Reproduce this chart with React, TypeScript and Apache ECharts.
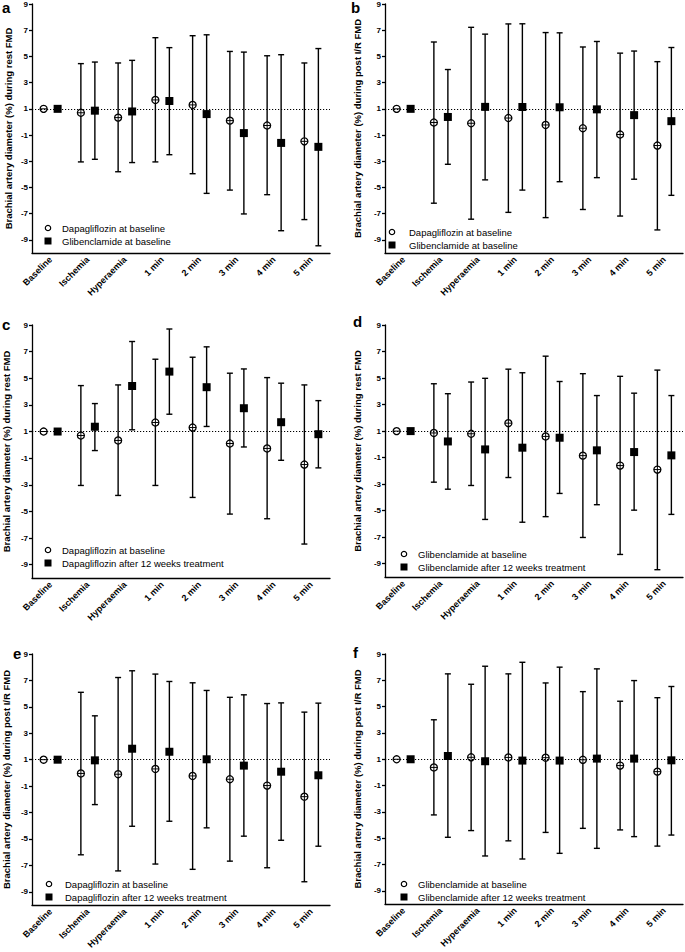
import React, { useEffect, useRef } from 'react';
import * as echarts from 'echarts';

// ---------- data ----------
const categories = ['Baseline', 'Ischemia', 'Hyperaemia', '1 min', '2 min', '3 min', '4 min', '5 min'];
const yTickValues = [-9, -7, -5, -3, -1, 1, 3, 5, 7, 9];
const referenceValue = 1;

// Dapagliflozin at baseline, rest FMD
const dapaBaseRestMean = [1, 0.7, 0.33, 1.68, 1.3, 0.1, -0.27, -1.48];
const dapaBaseRestLow = [1, -3.05, -3.8, -3.05, -3.95, -5.2, -5.55, -7.45];
const dapaBaseRestHigh = [1, 4.45, 4.5, 6.43, 6.58, 5.38, 5.05, 4.5];

// Glibenclamide at baseline, rest FMD
const glibBaseRestMean = [1, 0.86, 0.8, 1.6, 0.6, -0.85, -1.6, -1.9];
const glibBaseRestLow = [1, -2.85, -3.1, -2.5, -5.45, -7.02, -8.3, -9.45];
const glibBaseRestHigh = [1, 4.57, 4.7, 5.67, 6.65, 5.33, 5.13, 5.6];

// Dapagliflozin at baseline, post I/R FMD
const dapaBaseIRMean = [1, -0.04, -0.1, 0.3, -0.23, -0.48, -0.96, -1.8];
const dapaBaseIRLow = [1, -6.2, -7.42, -6.9, -7.3, -6.68, -7.18, -8.24];
const dapaBaseIRHigh = [1, 6.1, 7.22, 7.48, 6.82, 5.72, 5.25, 4.6];

// Glibenclamide at baseline, post I/R FMD
const glibBaseIRMean = [1, 0.38, 1.15, 1.14, 1.12, 0.96, 0.52, 0.06];
const glibBaseIRLow = [1, -3.23, -4.42, -5.2, -4.56, -4.25, -4.37, -5.6];
const glibBaseIRHigh = [1, 4.0, 6.7, 7.49, 6.8, 6.14, 5.41, 5.68];

// Dapagliflozin after 12 weeks, rest FMD
const dapa12RestMean = [1, 1.36, 4.42, 5.5, 4.33, 2.75, 1.7, 0.8];
const dapa12RestLow = [1, -0.43, 1.13, 2.3, 1.38, -0.16, -1.16, -1.73];
const dapa12RestHigh = [1, 3.1, 7.76, 8.7, 7.36, 5.7, 4.63, 3.32];

// Glibenclamide after 12 weeks, rest FMD
const glib12RestMean = [1, 0.22, -0.38, -0.25, 0.5, -0.45, -0.58, -0.83];
const glib12RestLow = [1, -3.38, -5.66, -5.87, -3.7, -4.55, -4.96, -5.28];
const glib12RestHigh = [1, 3.82, 4.98, 5.4, 4.74, 3.68, 3.86, 3.68];

// Dapagliflozin after 12 weeks, post I/R FMD
const dapa12IRMean = [1, 0.95, 1.83, 1.6, 1.03, 0.55, 0.09, -0.18];
const dapa12IRLow = [1, -2.4, -4.04, -3.66, -4.16, -4.79, -5.1, -5.55];
const dapa12IRHigh = [1, 4.32, 7.73, 6.92, 6.24, 5.91, 5.3, 5.28];

// Glibenclamide after 12 weeks, post I/R FMD
const glib12IRMean = [1, 1.25, 0.85, 0.9, 0.9, 1.05, 1.05, 0.92];
const glib12IRLow = [1, -4.93, -6.35, -6.58, -6.15, -5.77, -4.88, -4.76];
const glib12IRHigh = [1, 7.49, 8.07, 8.37, 8.0, 7.87, 6.98, 6.53];

const titleRest = 'Brachial artery diameter (%) during rest FMD';
const titleIR = 'Brachial artery diameter (%) during post I/R FMD';
const nameDapaBase = 'Dapagliflozin at baseline';
const nameGlibBase = 'Glibenclamide at baseline';
const nameDapa12 = 'Dapagliflozin after 12 weeks treatment';
const nameGlib12 = 'Glibenclamide after 12 weeks treatment';

type Group = { mean: number[]; low: number[]; high: number[]; label: string };

const dapaBaseRest: Group = { mean: dapaBaseRestMean, low: dapaBaseRestLow, high: dapaBaseRestHigh, label: nameDapaBase };
const glibBaseRest: Group = { mean: glibBaseRestMean, low: glibBaseRestLow, high: glibBaseRestHigh, label: nameGlibBase };
const dapaBaseIR: Group = { mean: dapaBaseIRMean, low: dapaBaseIRLow, high: dapaBaseIRHigh, label: nameDapaBase };
const glibBaseIR: Group = { mean: glibBaseIRMean, low: glibBaseIRLow, high: glibBaseIRHigh, label: nameGlibBase };
const dapa12Rest: Group = { mean: dapa12RestMean, low: dapa12RestLow, high: dapa12RestHigh, label: nameDapa12 };
const glib12Rest: Group = { mean: glib12RestMean, low: glib12RestLow, high: glib12RestHigh, label: nameGlib12 };
const dapa12IR: Group = { mean: dapa12IRMean, low: dapa12IRLow, high: dapa12IRHigh, label: nameDapa12 };
const glib12IR: Group = { mean: glib12IRMean, low: glib12IRLow, high: glib12IRHigh, label: nameGlib12 };

// ---------- layout ----------
const FONT = '"Liberation Sans", Arial, Helvetica, sans-serif';

const panels = [
  { letter: 'a', lx: 2, ly: 8, left: 32, top: 4, height: 249, nameGap: 19, title: titleRest, first: dapaBaseRest, second: glibBaseRest, iconX: 48, textX: 62, row1: 228 },
  { letter: 'b', lx: 351, ly: 8, left: 385, top: 4, height: 249, nameGap: 23, title: titleIR, first: dapaBaseIR, second: glibBaseIR, iconX: 392, textX: 409, row1: 232 },
  { letter: 'c', lx: 2, ly: 325, left: 32, top: 325, height: 253, nameGap: 21, title: titleRest, first: dapaBaseRest, second: dapa12Rest, iconX: 48, textX: 62, row1: 550 },
  { letter: 'd', lx: 353, ly: 322, left: 385, top: 325, height: 252, nameGap: 23, title: titleRest, first: glibBaseRest, second: glib12Rest, iconX: 404, textX: 418, row1: 554 },
  { letter: 'e', lx: 13, ly: 654, left: 32, top: 654, height: 251, nameGap: 21, title: titleIR, first: dapaBaseIR, second: dapa12IR, iconX: 49, textX: 65, row1: 884 },
  { letter: 'f', lx: 353, ly: 653, left: 385, top: 654, height: 250, nameGap: 23, title: titleIR, first: glibBaseIR, second: glib12IR, iconX: 404, textX: 418, row1: 884 },
];

const GRID_W = 298;
const OFFSET = 7;
const ROW_GAP = 13;

function makeRender(kind: 'circle' | 'square', dx: number) {
  return (params: any, api: any) => {
    const i = api.value(0);
    const m = api.value(1);
    const lo = api.value(2);
    const hi = api.value(3);
    const p = api.coord([i, m]);
    const x = p[0] + dx;
    const y = p[1];
    const children: any[] = [];
    const st = { stroke: '#000', lineWidth: 1.4 };
    const hasBar = hi !== lo;
    if (hasBar) {
      const yh = api.coord([i, hi])[1];
      const yl = api.coord([i, lo])[1];
      children.push({ type: 'line', shape: { x1: x, y1: yh, x2: x, y2: yl }, style: st });
      children.push({ type: 'line', shape: { x1: x - 3, y1: yh, x2: x + 3, y2: yh }, style: st });
      children.push({ type: 'line', shape: { x1: x - 3, y1: yl, x2: x + 3, y2: yl }, style: st });
    }
    if (kind === 'circle') {
      const r = 3.5;
      children.push({ type: 'circle', shape: { cx: x, cy: y, r }, style: { fill: '#fff', stroke: '#000', lineWidth: 1.3 } });
      children.push({ type: 'line', shape: { x1: x - r, y1: y, x2: x + r, y2: y }, style: { stroke: '#000', lineWidth: 1 } });
      if (hasBar) {
        children.push({ type: 'line', shape: { x1: x, y1: y - r, x2: x, y2: y + r }, style: { stroke: '#000', lineWidth: 1 } });
      }
    } else {
      children.push({ type: 'rect', shape: { x: x - 4, y: y - 4, width: 8, height: 8 }, style: { fill: '#000' } });
    }
    return { type: 'group', children };
  };
}

function toData(g: Group) {
  return categories.map((_, i) => [i, g.mean[i], g.low[i], g.high[i]]);
}

export default function App() {
  const ref = useRef<HTMLDivElement>(null);

  useEffect(() => {
    if (!ref.current) return;
    const chart = echarts.init(ref.current, undefined, { renderer: 'svg' });

    const axisLineStyle = { color: '#000', width: 1.3 };
    const series: any[] = [];
    const graphics: any[] = [];

    panels.forEach((p, idx) => {
      series.push({
        type: 'line',
        xAxisIndex: idx,
        yAxisIndex: idx,
        data: [],
        silent: true,
        z: 1,
        markLine: {
          silent: true,
          symbol: ['none', 'none'],
          label: { show: false },
          lineStyle: { color: '#000', width: 1, type: [1.2, 1.8] },
          data: [{ yAxis: referenceValue }],
        },
      });
      series.push({
        type: 'custom',
        name: p.first.label,
        xAxisIndex: idx,
        yAxisIndex: idx,
        z: 3,
        renderItem: makeRender('circle', -OFFSET),
        encode: { x: 0, y: 1 },
        data: toData(p.first),
      });
      series.push({
        type: 'custom',
        name: p.second.label,
        xAxisIndex: idx,
        yAxisIndex: idx,
        z: 3,
        renderItem: makeRender('square', OFFSET),
        encode: { x: 0, y: 1 },
        data: toData(p.second),
      });

      // panel letter
      graphics.push({
        type: 'text',
        left: p.lx,
        top: p.ly - 8,
        style: { text: p.letter, fontSize: 15, fontWeight: 'bold', fontFamily: FONT, fill: '#000' },
      });
      // legend
      const r2 = p.row1 + ROW_GAP;
      graphics.push({
        type: 'group',
        children: [
          { type: 'circle', shape: { cx: p.iconX, cy: p.row1, r: 2.7 }, style: { fill: '#fff', stroke: '#000', lineWidth: 1.2 } },
          { type: 'text', x: p.textX, y: p.row1, style: { text: p.first.label, fontSize: 9.5, fontFamily: FONT, fill: '#000', align: 'left', verticalAlign: 'middle' } },
          { type: 'rect', shape: { x: p.iconX - 3.5, y: r2 - 3.5, width: 7, height: 7 }, style: { fill: '#000' } },
          { type: 'text', x: p.textX, y: r2, style: { text: p.second.label, fontSize: 9.5, fontFamily: FONT, fill: '#000', align: 'left', verticalAlign: 'middle' } },
        ],
      });
    });

    const option: any = {
      animation: false,
      backgroundColor: '#fff',
      grid: panels.map((p) => ({ left: p.left, top: p.top, width: GRID_W, height: p.height, containLabel: false })),
      xAxis: panels.map((p, idx) => ({
        type: 'category',
        gridIndex: idx,
        data: categories,
        boundaryGap: true,
        axisLine: { onZero: false, lineStyle: axisLineStyle },
        axisTick: { alignWithLabel: true, length: 4, lineStyle: axisLineStyle },
        axisLabel: { interval: 0, rotate: 45, fontSize: 9, fontWeight: 'bold', fontFamily: FONT, color: '#000', margin: 5 },
        splitLine: { show: false },
      })),
      yAxis: panels.map((p, idx) => ({
        type: 'value',
        gridIndex: idx,
        min: -10,
        max: 9,
        axisLine: { show: true, lineStyle: axisLineStyle },
        axisTick: { show: true, customValues: yTickValues, length: 3, lineStyle: axisLineStyle },
        axisLabel: { customValues: yTickValues, fontSize: 8, fontWeight: 'bold', fontFamily: FONT, color: '#000', margin: 4 },
        splitLine: { show: false },
        name: p.title,
        nameLocation: 'middle',
        nameRotate: 90,
        nameGap: p.nameGap,
        nameTextStyle: { fontSize: 9.5, fontWeight: 'bold', fontFamily: FONT, color: '#000' },
      })),
      graphic: graphics,
      series,
    };

    chart.setOption(option);
    return () => chart.dispose();
  }, []);

  return (
    <div
      ref={ref}
      style={{ position: 'absolute', left: 0, top: 0, width: 685, height: 952, background: '#fff' }}
    />
  );
}
